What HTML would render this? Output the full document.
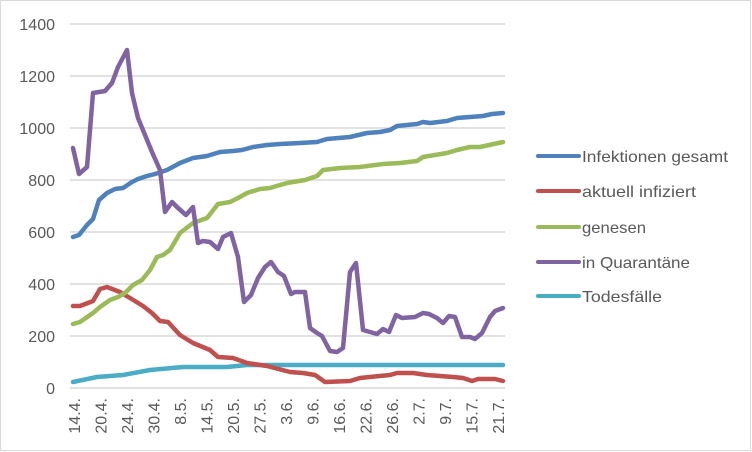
<!DOCTYPE html>
<html><head><meta charset="utf-8"><style>
html,body{margin:0;padding:0;background:#fff;}
svg{display:block;font-family:"Liberation Sans",sans-serif;}
</style></head><body>
<svg width="752" height="452" viewBox="0 0 752 452" xmlns="http://www.w3.org/2000/svg">
<rect x="0.5" y="0.5" width="750" height="450" fill="#fff" stroke="#d9d9d9"/>
<g stroke="#d9d9d9" stroke-width="1.5">
<line x1="70" x2="505" y1="24" y2="24"/><line x1="70" x2="505" y1="76" y2="76"/>
<line x1="70" x2="505" y1="128" y2="128"/><line x1="70" x2="505" y1="180" y2="180"/>
<line x1="70" x2="505" y1="232" y2="232"/><line x1="70" x2="505" y1="284" y2="284"/>
<line x1="70" x2="505" y1="336" y2="336"/><line x1="70" x2="505" y1="388" y2="388"/>
</g>
<g fill="#595959" font-size="16" text-anchor="end">
<text x="55" y="30">1400</text><text x="55" y="82">1200</text><text x="55" y="134">1000</text>
<text x="55" y="186">800</text><text x="55" y="238">600</text><text x="55" y="290">400</text>
<text x="55" y="342">200</text><text x="55" y="394">0</text>
</g>
<g fill="#595959" font-size="16" text-anchor="end">
<text transform="translate(80,398) rotate(-90)">14.4.</text>
<text transform="translate(106.5,398) rotate(-90)">20.4.</text>
<text transform="translate(133,398) rotate(-90)">24.4.</text>
<text transform="translate(159.5,398) rotate(-90)">30.4.</text>
<text transform="translate(186,398) rotate(-90)">8.5.</text>
<text transform="translate(212.5,398) rotate(-90)">14.5.</text>
<text transform="translate(239,398) rotate(-90)">20.5.</text>
<text transform="translate(265.5,398) rotate(-90)">27.5.</text>
<text transform="translate(292,398) rotate(-90)">3.6.</text>
<text transform="translate(318.5,398) rotate(-90)">9.6.</text>
<text transform="translate(345,398) rotate(-90)">16.6.</text>
<text transform="translate(371.5,398) rotate(-90)">22.6.</text>
<text transform="translate(398,398) rotate(-90)">26.6.</text>
<text transform="translate(424.5,398) rotate(-90)">2.7.</text>
<text transform="translate(451,398) rotate(-90)">9.7.</text>
<text transform="translate(477.5,398) rotate(-90)">15.7.</text>
<text transform="translate(504,398) rotate(-90)">21.7.</text>
</g>
<g fill="none" stroke-width="4.5" stroke-linejoin="round" stroke-linecap="round">
<polyline stroke="#4bacc6" points="73,382 97,377 123,375 150,370 183,367 227,367 247,365 300,365 503,365"/>
<polyline stroke="#c0504d" points="73,306 80,306 93,301 100,289 107,287 120,292 130,298 143,306 152,313 160,321 168,322 180,335 193,343 210,350 218,357 233,358 247,363 267,366 290,372 303,373 315,375 325,382 350,381 360,378 390,375 397,373 413,373 427,375 453,377 463,378 472,381 478,379 495,379 503,381"/>
<polyline stroke="#9bbb59" points="73,324 80,322 93,313 100,307 110,300 118,297 125,293 133,285 142,280 150,270 157,257 163,255 170,250 180,233 193,223 207,218 218,204 230,202 238,198 247,193 260,189 270,188 287,183 305,180 317,176 323,170 340,168 360,167 383,164 400,163 417,161 423,157 447,153 457,150 470,147 480,147 503,142"/>
<polyline stroke="#4f81bd" points="73,237 79,235 87,225 93,219 99,200 107,193 115,189 123,188 132,182 138,179 147,176 155,174 167,170 180,163 193,158 207,156 220,152 233,151 242,150 253,147 267,145 280,144 300,143 317,142 327,139 350,137 367,133 380,132 390,130 397,126 417,124 423,122 430,123 447,121 457,118 483,116 492,114 503,113"/>
<polyline stroke="#8064a2" points="73,148 79,174 87,167 93,93 99,92 105,91 112,83 118,67 127,50 132,93 138,118 145,135 152,152 160,170 165,212 172,202 178,208 186,215 193,207 198,243 203,241 210,242 218,249 223,237 231,233 238,257 244,302 251,295 258,278 265,267 271,262 278,272 284,276 291,294 295,292 305,292 310,328 317,333 322,336 330,351 337,352 343,348 350,272 356,263 363,330 370,332 377,334 383,329 389,332 396,315 402,318 415,317 423,313 429,314 437,318 443,323 449,316 455,317 462,337 470,337 475,339 482,333 490,317 495,311 503,308"/>
</g>
<g stroke-width="4" stroke-linecap="round">
<line x1="538" x2="579" y1="156" y2="156" stroke="#4f81bd"/>
<line x1="538" x2="579" y1="191" y2="191" stroke="#c0504d"/>
<line x1="538" x2="579" y1="227" y2="227" stroke="#9bbb59"/>
<line x1="538" x2="579" y1="262" y2="262" stroke="#8064a2"/>
<line x1="538" x2="579" y1="296" y2="296" stroke="#4bacc6"/>
</g>
<g fill="#595959" font-size="16">
<text x="582" y="162" textLength="146" lengthAdjust="spacingAndGlyphs">Infektionen gesamt</text>
<text x="582" y="197" textLength="114" lengthAdjust="spacingAndGlyphs">aktuell infiziert</text>
<text x="582" y="233" textLength="64" lengthAdjust="spacingAndGlyphs">genesen</text>
<text x="582" y="268" textLength="108" lengthAdjust="spacingAndGlyphs">in Quarantäne</text>
<text x="582" y="302" textLength="80" lengthAdjust="spacingAndGlyphs">Todesfälle</text>
</g>
</svg>
</body></html>
